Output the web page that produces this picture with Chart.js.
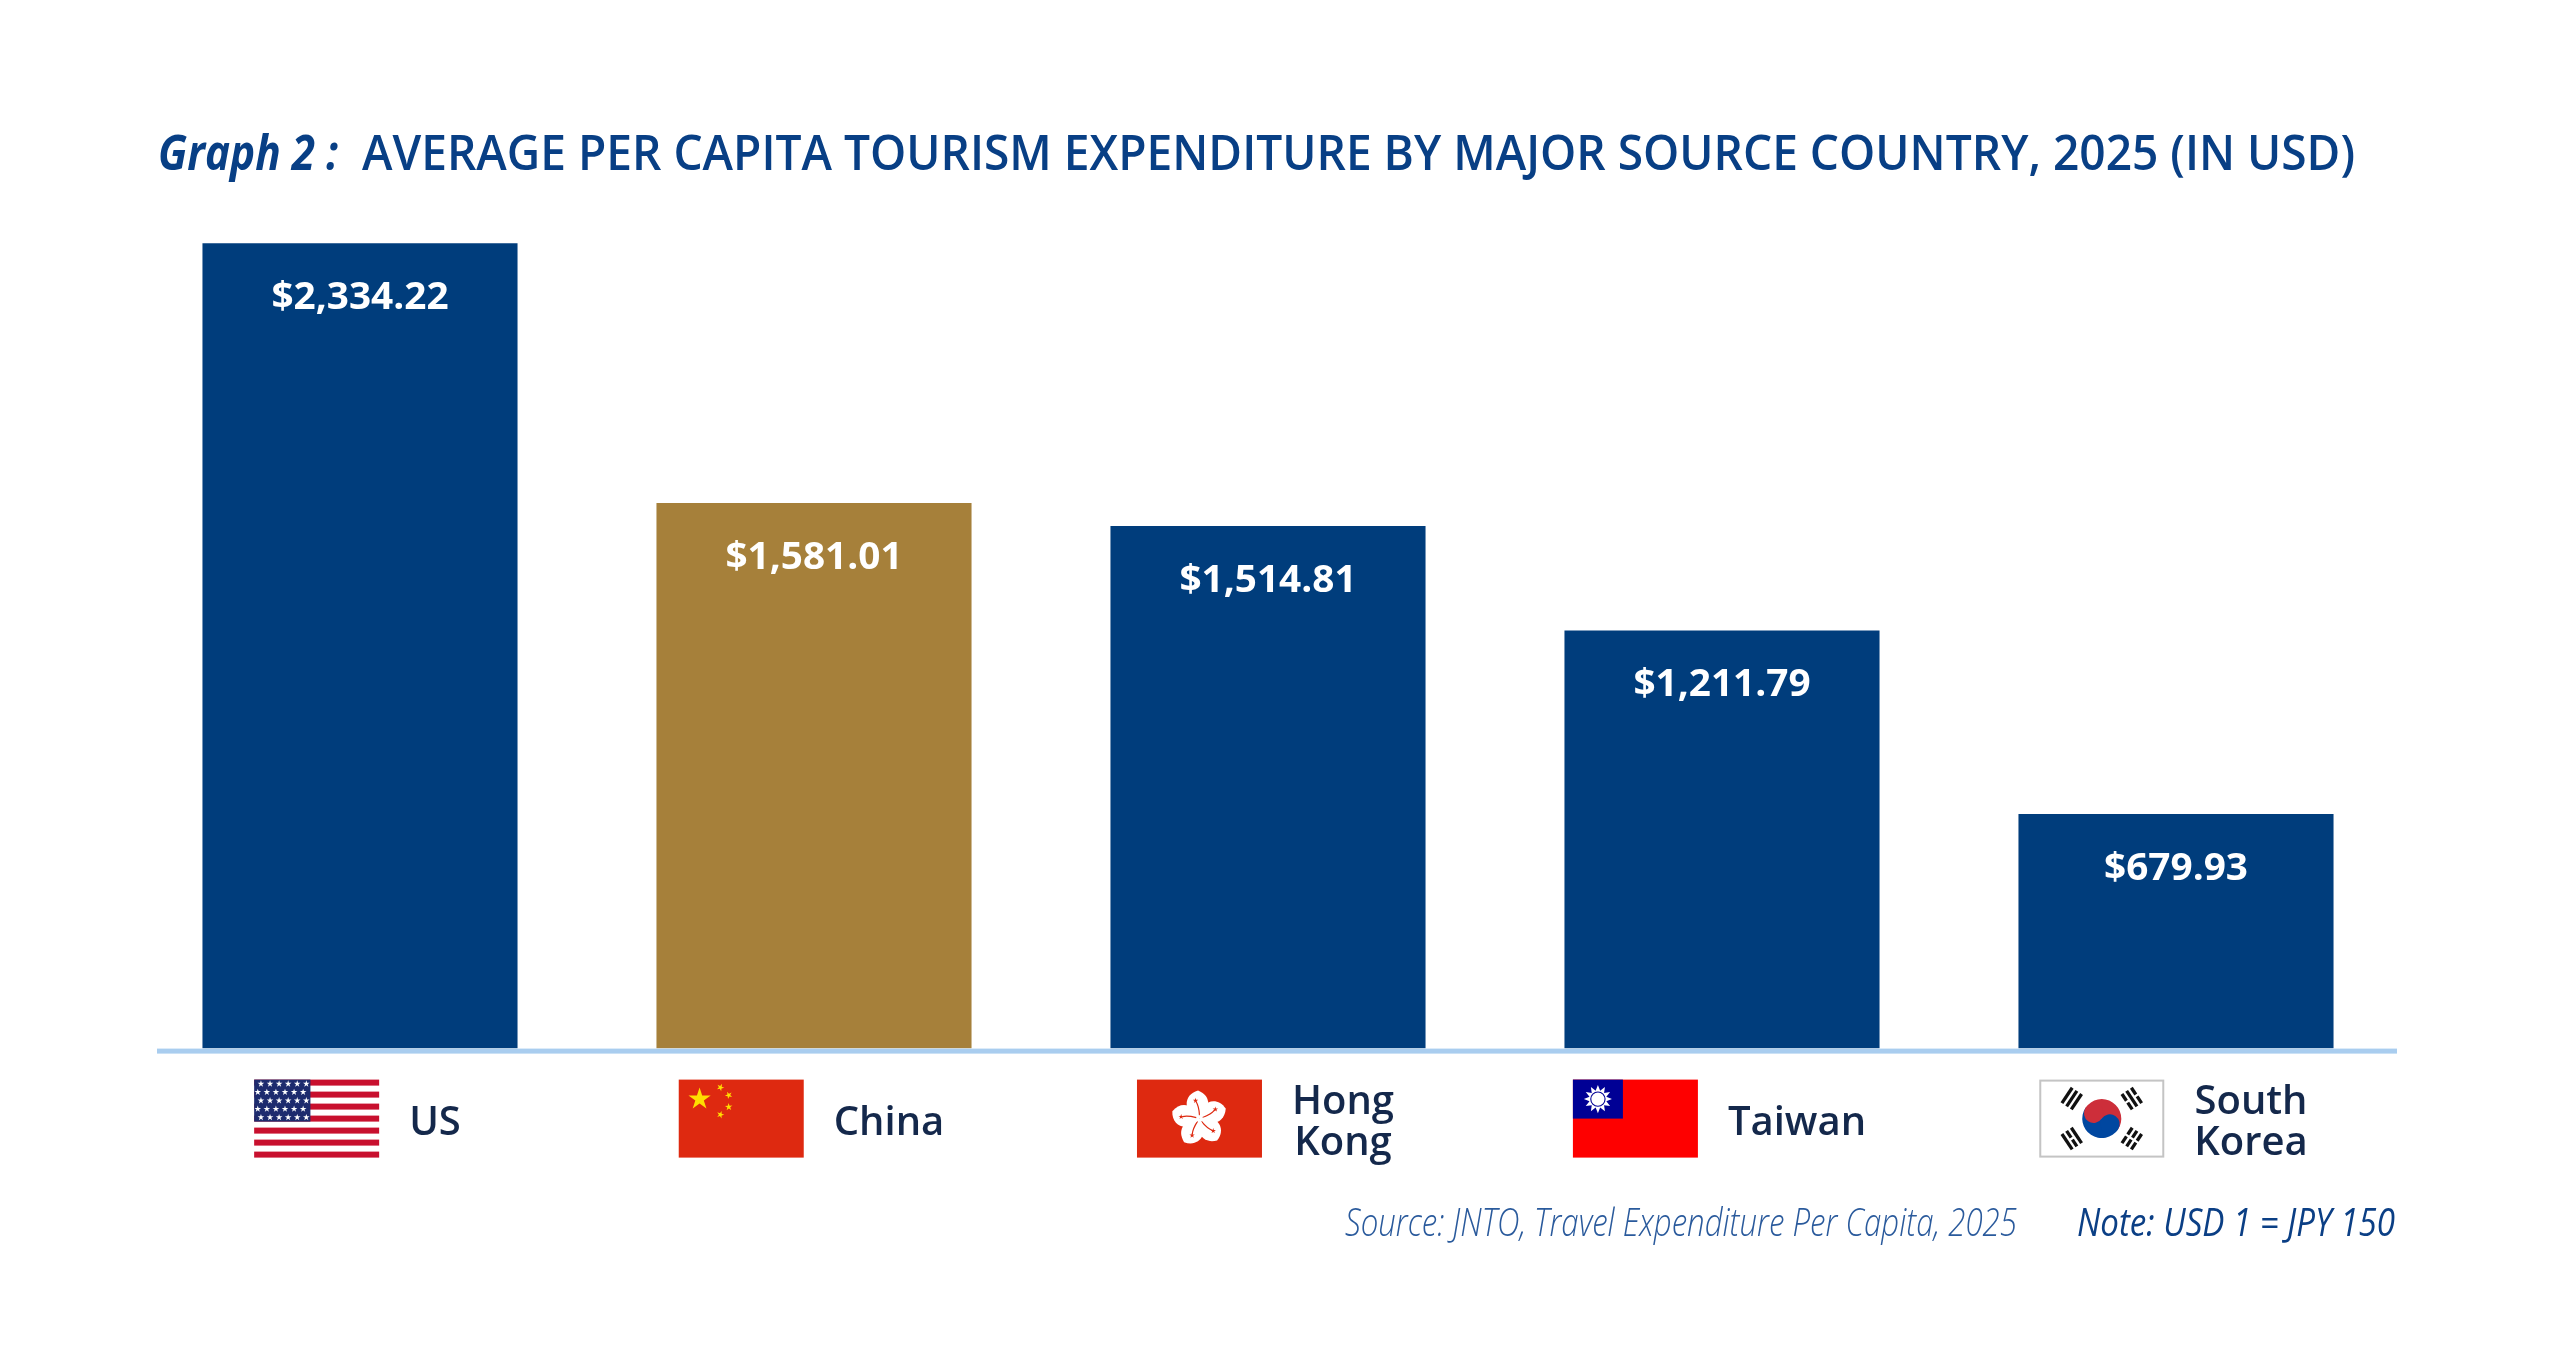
<!DOCTYPE html>
<html>
<head>
<meta charset="utf-8">
<title>Graph 2 - Average per capita tourism expenditure</title>
<script src="https://cdn.jsdelivr.net/npm/chart.js@4.4.1/dist/chart.umd.min.js"></script>
<style>
  html, body { margin: 0; padding: 0; background: #ffffff; }
  #wrap { width: 2560px; height: 1365px; position: relative; }
</style>
</head>
<body>
<div id="wrap"><canvas id="graph"></canvas></div>
<script>
// data
const countries = ['US', 'China', ['Hong', 'Kong'], 'Taiwan', ['South', 'Korea']];
const flagCodes = ['us', 'cn', 'hk', 'tw', 'kr'];
const spending = [2334.22, 1581.01, 1514.81, 1211.79, 679.93];
const highlightCountry = 'China';
const titleLead = 'Graph 2 :';
const titleText = 'AVERAGE PER CAPITA TOURISM EXPENDITURE BY MAJOR SOURCE COUNTRY, 2025 (IN USD)';
const sourceText = 'Source: JNTO, Travel Expenditure Per Capita, 2025';
const noteText = 'Note: USD 1 = JPY 150';

const NAVY = '#003d7c';
const GOLD = '#a6803a';
const INK = '#14284b';
const TITLE_BLUE = '#083f85';
const FONT = '"Open Sans", "Noto Sans", sans-serif';
const LABEL_OFFSET = 75;

function fittedText(ctx, text, font, color, x, y, width) {
    ctx.save();
    ctx.font = font;
    ctx.fillStyle = color;
    ctx.textAlign = 'left';
    ctx.textBaseline = 'alphabetic';
    const natural = ctx.measureText(text).width;
    ctx.translate(x, y);
    ctx.scale(width / natural, 1);
    ctx.fillText(text, 0, 0);
    ctx.restore();
}

function star(ctx, cx, cy, r, rot) {
    ctx.beginPath();
    for (let k = 0; k < 10; k++) {
        const rr = k % 2 === 0 ? r : r * 0.382;
        const a = rot - Math.PI / 2 + k * Math.PI / 5;
        const px = cx + rr * Math.cos(a);
        const py = cy + rr * Math.sin(a);
        if (k === 0) ctx.moveTo(px, py); else ctx.lineTo(px, py);
    }
    ctx.closePath();
    ctx.fill();
}

function flagUS(ctx, x, y, w, h) {
    const sh = h / 13;
    ctx.fillStyle = '#ffffff';
    ctx.fillRect(x, y, w, h);
    ctx.fillStyle = '#c8102e';
    for (let i = 0; i < 13; i += 2) ctx.fillRect(x, y + i * sh, w, sh);
    const cw = w * 0.45, ch = sh * 7;
    ctx.fillStyle = '#1d2b6e';
    ctx.fillRect(x, y, cw, ch);
    ctx.fillStyle = '#ffffff';
    for (let r = 0; r < 5; r++) {
        for (let c = 0; c < 6; c++) {
            const sx = x + cw * (c + (r % 2 === 0 ? 0.75 : 0.4)) / 6.2;
            const sy = y + ch * (r + 0.5) / 5;
            star(ctx, sx, sy, ch / 12, 0);
        }
    }
}

function flagCN(ctx, x, y, w, h) {
    ctx.fillStyle = '#de2910';
    ctx.fillRect(x, y, w, h);
    const u = w / 30, v = h / 20;
    ctx.fillStyle = '#ffde00';
    star(ctx, x + 5 * u, y + 5 * v, 3 * v, 0);
    [[10, 2], [12, 4], [12, 7], [10, 9]].forEach(function (p) {
        const ang = Math.atan2((5 - p[1]) * v, (5 - p[0]) * u);
        star(ctx, x + p[0] * u, y + p[1] * v, v, ang + Math.PI / 2);
    });
}

function flagHK(ctx, x, y, w, h) {
    ctx.fillStyle = '#de2910';
    ctx.fillRect(x, y, w, h);
    const cx = x + w / 2, cy = y + h / 2, R = h * 0.36;
    for (let i = 0; i < 5; i++) {
        ctx.save();
        ctx.translate(cx, cy);
        ctx.rotate(i * 2 * Math.PI / 5);
        ctx.fillStyle = '#ffffff';
        ctx.beginPath();
        ctx.moveTo(0, 0);
        ctx.bezierCurveTo(-R * 0.6, -R * 0.2, -R * 0.6, -R * 0.85, -R * 0.05, -R * 1.0);
        ctx.bezierCurveTo(R * 0.45, -R * 0.8, R * 0.4, -R * 0.3, 0, 0);
        ctx.fill();
        ctx.strokeStyle = '#de2910';
        ctx.lineWidth = 1.2;
        ctx.beginPath();
        ctx.moveTo(0, -R * 0.12);
        ctx.quadraticCurveTo(-R * 0.02, -R * 0.45, -R * 0.12, -R * 0.6);
        ctx.stroke();
        ctx.fillStyle = '#de2910';
        star(ctx, -R * 0.14, -R * 0.64, R * 0.1, 0);
        ctx.restore();
    }
}

function flagTW(ctx, x, y, w, h) {
    ctx.fillStyle = '#fe0000';
    ctx.fillRect(x, y, w, h);
    const cw = w * 0.4, ch = h * 0.5;
    ctx.fillStyle = '#000095';
    ctx.fillRect(x, y, cw, ch);
    const cx = x + cw / 2, cy = y + ch / 2, R = ch * 0.36;
    ctx.fillStyle = '#ffffff';
    ctx.beginPath();
    for (let k = 0; k < 24; k++) {
        const rr = k % 2 === 0 ? R : R * 0.62;
        const a = -Math.PI / 2 + k * Math.PI / 12;
        const px = cx + rr * Math.cos(a), py = cy + rr * Math.sin(a);
        if (k === 0) ctx.moveTo(px, py); else ctx.lineTo(px, py);
    }
    ctx.closePath();
    ctx.fill();
    ctx.fillStyle = '#000095';
    ctx.beginPath(); ctx.arc(cx, cy, R * 0.55, 0, Math.PI * 2); ctx.fill();
    ctx.fillStyle = '#ffffff';
    ctx.beginPath(); ctx.arc(cx, cy, R * 0.47, 0, Math.PI * 2); ctx.fill();
}

function flagKR(ctx, x, y, w, h) {
    ctx.fillStyle = '#ffffff';
    ctx.fillRect(x, y, w, h);
    ctx.strokeStyle = '#c4c4c4';
    ctx.lineWidth = 2;
    ctx.strokeRect(x + 1, y + 1, w - 2, h - 2);
    const cx = x + w / 2, cy = y + h / 2, r = h * 0.25;
    const tilt = Math.atan2(2, 3);
    ctx.save();
    ctx.translate(cx, cy);
    ctx.rotate(tilt);
    ctx.fillStyle = '#cd2e3a';
    ctx.beginPath(); ctx.arc(0, 0, r, Math.PI, 2 * Math.PI); ctx.fill();
    ctx.fillStyle = '#0047a0';
    ctx.beginPath(); ctx.arc(0, 0, r, 0, Math.PI); ctx.fill();
    ctx.fillStyle = '#cd2e3a';
    ctx.beginPath(); ctx.arc(-r / 2, 0, r / 2, 0, Math.PI * 2); ctx.fill();
    ctx.fillStyle = '#0047a0';
    ctx.beginPath(); ctx.arc(r / 2, 0, r / 2, 0, Math.PI * 2); ctx.fill();
    ctx.restore();

    // trigrams: true = solid bar, false = broken bar
    const trigrams = [
        { ang: Math.PI + tilt, bars: [true, true, true] },
        { ang: -tilt, bars: [false, true, false] },
        { ang: tilt, bars: [false, false, false] },
        { ang: Math.PI - tilt, bars: [true, false, true] }
    ];
    const L = r * 0.95, t = r * 0.17, dist = r * 1.85;
    ctx.fillStyle = '#111111';
    trigrams.forEach(function (tg) {
        ctx.save();
        ctx.translate(cx + dist * Math.cos(tg.ang), cy + dist * Math.sin(tg.ang));
        ctx.rotate(tg.ang + Math.PI / 2);
        tg.bars.forEach(function (solid, i) {
            const yy = (i - 1) * t * 1.7 - t / 2;
            if (solid) {
                ctx.fillRect(-L / 2, yy, L, t);
            } else {
                const g = t * 0.7;
                ctx.fillRect(-L / 2, yy, (L - g) / 2, t);
                ctx.fillRect(g / 2, yy, (L - g) / 2, t);
            }
        });
        ctx.restore();
    });
}

const flagPainters = { us: flagUS, cn: flagCN, hk: flagHK, tw: flagTW, kr: flagKR };

const titlePlugin = {
    id: 'titleAndNotes',
    afterDraw(chart) {
        const ctx = chart.ctx;
        fittedText(ctx, titleLead, 'italic 700 48px ' + FONT, TITLE_BLUE, 158, 170, 180);
        fittedText(ctx, titleText, '600 48px ' + FONT, TITLE_BLUE, 362, 170, 1993);
        fittedText(ctx, sourceText, 'italic 300 38px ' + FONT, '#2a5a9c', 1345, 1236, 672);
        fittedText(ctx, noteText, 'italic 400 38px ' + FONT, '#0b3f85', 2077, 1236, 318);
    }
};

const baselinePlugin = {
    id: 'baseline',
    afterDatasetsDraw(chart) {
        const ctx = chart.ctx;
        const area = chart.chartArea;
        const y0 = chart.scales.y.getPixelForValue(0);
        ctx.save();
        ctx.fillStyle = '#a9cdef';
        ctx.fillRect(area.left + 24, y0, area.right - area.left - 30, 5);
        ctx.restore();
    }
};

const valueLabelPlugin = {
    id: 'valueLabels',
    afterDatasetsDraw(chart) {
        const ctx = chart.ctx;
        const meta = chart.getDatasetMeta(0);
        ctx.save();
        ctx.font = '700 38px ' + FONT;
        ctx.fillStyle = '#ffffff';
        ctx.textAlign = 'center';
        ctx.textBaseline = 'alphabetic';
        meta.data.forEach(function (bar, i) {
            const text = '$' + spending[i].toLocaleString('en-US', { minimumFractionDigits: 2, maximumFractionDigits: 2 });
            ctx.save();
            ctx.translate(bar.x, bar.y + 66);
            ctx.scale(1.02, 1);
            ctx.fillText(text, 0, 0);
            ctx.restore();
        });
        ctx.restore();
    }
};

const flagPlugin = {
    id: 'flags',
    afterDraw(chart) {
        const ctx = chart.ctx;
        const xs = chart.scales.x;
        const area = chart.chartArea;
        ctx.save();
        ctx.font = '600 40px ' + FONT;
        countries.forEach(function (label, i) {
            const lines = Array.isArray(label) ? label : [label];
            const textW = Math.max.apply(null, lines.map(l => ctx.measureText(l).width));
            const labelLeft = xs.getPixelForTick(i) + LABEL_OFFSET - textW / 2;
            const fw = 125, fh = 78;
            flagPainters[flagCodes[i]](ctx, labelLeft - 30 - fw, area.bottom + 31, fw, fh);
        });
        ctx.restore();
    }
};

new Chart(document.getElementById('graph').getContext('2d'), {
    type: 'bar',
    data: {
        labels: countries,
        datasets: [{
            label: 'Per capita expenditure (USD)',
            data: spending,
            backgroundColor: countries.map(c => c === highlightCountry ? GOLD : NAVY),
            borderWidth: 0,
            barPercentage: 0.694,
            categoryPercentage: 1
        }]
    },
    options: {
        responsive: true,
        maintainAspectRatio: false,
        animation: false,
        layout: { padding: { top: 186, left: 133, right: 157, bottom: 126 } },
        scales: {
            x: {
                grid: { display: false, drawTicks: false },
                border: { display: false },
                ticks: {
                    color: INK,
                    font: { family: FONT, size: 40, weight: '600', lineHeight: 1.03 },
                    padding: 54,
                    labelOffset: LABEL_OFFSET,
                    crossAlign: 'center',
                    maxRotation: 0,
                    autoSkip: false
                }
            },
            y: {
                display: false,
                min: 0,
                max: 2500
            }
        },
        plugins: {
            legend: { display: false },
            tooltip: { enabled: false }
        }
    },
    plugins: [baselinePlugin, valueLabelPlugin, flagPlugin, titlePlugin]
});
</script>
</body>
</html>
